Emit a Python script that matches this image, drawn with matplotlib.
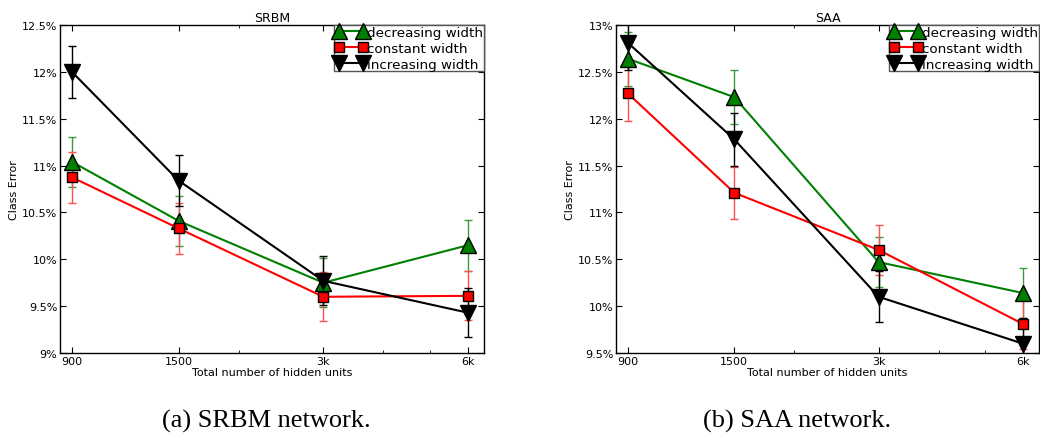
import numpy as np
import matplotlib
matplotlib.use('Agg')
import matplotlib.pyplot as plt
from matplotlib.ticker import FuncFormatter, NullFormatter

# DATA
hidden_units = [900, 1500, 3000, 6000]
tick_labels = ['900', '1500', '3k', '6k']
series_names = ['decreasing width', 'constant width', 'increasing width']

srbm_dec = [11.04, 10.41, 9.75, 10.15]
srbm_dec_err = [0.27, 0.27, 0.26, 0.27]
srbm_const = [10.875, 10.33, 9.60, 9.61]
srbm_const_err = [0.27, 0.27, 0.26, 0.26]
srbm_inc = [12.0, 10.84, 9.77, 9.43]
srbm_inc_err = [0.28, 0.27, 0.26, 0.26]

saa_dec = [12.64, 12.23, 10.47, 10.14]
saa_dec_err = [0.29, 0.29, 0.27, 0.27]
saa_const = [12.27, 11.21, 10.60, 9.81]
saa_const_err = [0.29, 0.28, 0.27, 0.27]
saa_inc = [12.81, 11.78, 10.10, 9.60]
saa_inc_err = [0.29, 0.28, 0.27, 0.27]

srbm_yticks = [9, 9.5, 10, 10.5, 11, 11.5, 12, 12.5]
saa_yticks = [9.5, 10, 10.5, 11, 11.5, 12, 12.5, 13]

# styles: (line/marker colour, marker, marker size, errorbar colour)
styles = [('g', '^', 12, '#3c9a3c'),
          ('r', 's', 7, '#ff5050'),
          ('k', 'v', 12, 'k')]


def pct(v, pos):
    return ('%g' % v) + '%'


def draw_panel(ax, title, series, yticks):
    handles = []
    for (vals, errs), name, (col, mk, ms, ecol) in zip(series, series_names, styles):
        cont = ax.errorbar(hidden_units, vals, yerr=errs, color=col, marker=mk,
                           markersize=ms, markerfacecolor=col, markeredgecolor='k',
                           markeredgewidth=1.0, linewidth=1.5, ecolor=ecol,
                           elinewidth=1.0, capsize=3, capthick=1.0, label=name)
        handles.append(cont.lines[0])

    ax.set_xscale('log')
    ax.set_xlim(850, 6480)
    ax.set_xticks(hidden_units)
    ax.set_xticklabels(tick_labels)
    ax.xaxis.set_minor_formatter(NullFormatter())
    ax.set_yticks(yticks)
    ax.set_ylim(yticks[0], yticks[-1])
    ax.yaxis.set_major_formatter(FuncFormatter(pct))

    ax.tick_params(which='both', direction='in', top=True, right=True,
                   labelsize=8, pad=2)
    ax.tick_params(which='major', length=4)
    ax.tick_params(which='minor', length=2)
    for sp in ax.spines.values():
        sp.set_linewidth(1.0)

    ax.set_title(title, fontsize=9, pad=3)
    ax.set_xlabel('Total number of hidden units', fontsize=8, labelpad=1)
    ax.set_ylabel('Class Error', fontsize=8, labelpad=2)

    leg = ax.legend(handles, series_names, loc='upper right', numpoints=2,
                    fontsize=9.7, borderaxespad=0, fancybox=False, framealpha=1,
                    borderpad=0.05, labelspacing=0.22, handlelength=2.4,
                    handletextpad=0.0)
    leg.get_frame().set_edgecolor('#555555')
    leg.get_frame().set_linewidth(1.0)


fig = plt.figure(figsize=(10.4, 4.39), dpi=100)
ax1 = fig.add_axes([0.0577, 0.1936, 0.4077, 0.7472])
ax2 = fig.add_axes([0.5923, 0.1936, 0.4067, 0.7472])

draw_panel(ax1, 'SRBM',
           [(srbm_dec, srbm_dec_err), (srbm_const, srbm_const_err), (srbm_inc, srbm_inc_err)],
           srbm_yticks)
draw_panel(ax2, 'SAA',
           [(saa_dec, saa_dec_err), (saa_const, saa_const_err), (saa_inc, saa_inc_err)],
           saa_yticks)

fig.text(0.256, 0.041, '(a) SRBM network.', family='Liberation Serif',
         fontsize=19, ha='center', va='center')
fig.text(0.766, 0.041, '(b) SAA network.', family='Liberation Serif',
         fontsize=19, ha='center', va='center')

fig.savefig('out.png', dpi=100)
